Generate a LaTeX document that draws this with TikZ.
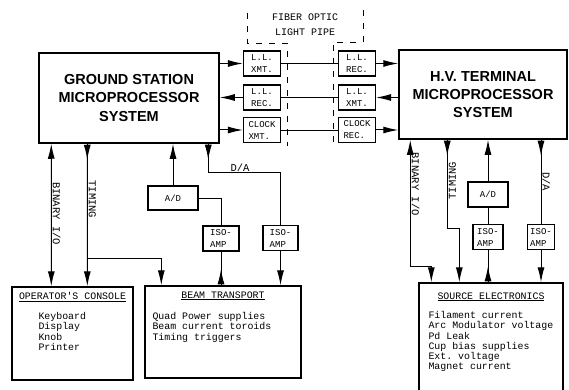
\documentclass[tikz,border=0pt]{standalone}
\usepackage{fontspec}
\setmainfont{Liberation Serif}
\setsansfont{Liberation Sans}
\setmonofont{Liberation Mono}
\usetikzlibrary{arrows.meta,positioning,decorations.markings}

\begin{document}
\begin{tikzpicture}[
  x=1pt, y=-1pt,
  >={Latex[length=15pt,width=7pt]},
  every node/.style={inner sep=1pt},
  link/.style={line width=1pt},
  headout/.style={link, postaction={decorate},
    decoration={markings, mark=at position 16pt with {\arrow{>}}}},
  fiber/.style={line width=0.6pt},
  pipe/.style={line width=0.8pt, dash pattern=on 6pt off 7pt},
  sysbox/.style={draw, line width=1.5pt, align=center,
    font=\fontsize{14.5}{18.3}\selectfont\sffamily\bfseries},
  unit/.style={draw, line width=1.3pt, minimum width=#1, minimum height=25pt,
    align=left, inner sep=2pt, font=\fontsize{9}{12}\selectfont\ttfamily},
  unit/.default=37pt,
  panel/.style={draw, line width=1.4pt},
  heading/.style={font=\fontsize{9.9}{10.2}\selectfont\ttfamily},
  items/.style={align=left, font=\fontsize{9.9}{10.2}\selectfont\ttfamily},
  tag/.style={font=\fontsize{10.5}{12}\selectfont\ttfamily}
]
\useasboundingbox (0,0) rectangle (569,390);

\node[sysbox, minimum width=180pt, minimum height=90pt] (gs) at (129,98)
  {GROUND STATION\\MICROPROCESSOR\\SYSTEM};
\node[sysbox, minimum width=168pt, minimum height=89pt] (hv) at (483,94.5)
  {H.V. TERMINAL\\MICROPROCESSOR\\SYSTEM};

\node[unit] (llx) at (262,63.5) {L.L.\\XMT.};
\node[unit] (llr) at (262,97.5) {L.L.\\REC.};
\node[unit] (clkx) at (262,130) {CLOCK\\XMT.};
\node[unit] (llrr) at (357,63.5) {L.L.\\REC.};
\node[unit] (llxr) at (357,97.5) {L.L.\\XMT.};
\node[unit] (clkr) at (357,130) {CLOCK\\REC.};

\node[tag, align=center, font=\fontsize{10}{15}\selectfont\ttfamily] (pipelbl) at (305,25)
  {FIBER OPTIC\\LIGHT PIPE};
\draw[pipe] (247,13) -- (247,43) -- (287,43) -- (287,146);
\draw[pipe] (363,10) -- (363,42) -- (333,42) -- (333,146);

\node[unit=50pt, minimum height=24pt] (adg) at (173,198) {A/D};
\node[unit=36pt] (isob) at (221,238.5) {ISO-\\AMP};
\node[unit=35pt] (isod) at (280.5,238) {ISO-\\AMP};
\node[unit=40pt] (adh) at (488,194.5) {A/D};
\node[unit=30pt] (isoa) at (488,237) {ISO-\\AMP};
\node[unit=27pt] (isoh) at (541,237) {ISO-\\AMP};

\node[panel, minimum width=121pt, minimum height=93pt] (con) at (72.5,333.5) {};
\node[heading, below=5pt of con.north] (conhd) {\underline{OPERATOR'S CONSOLE}};
\node[items, anchor=north west] (conlist) at ([xshift=26pt,yshift=-25pt]con.north west)
  {Keyboard\\Display\\Knob\\Printer};

\node[panel, minimum width=156pt, minimum height=92pt] (beam) at (223,332) {};
\node[heading, below=5pt of beam.north] (beamhd) {\underline{BEAM TRANSPORT}};
\node[items, anchor=north west] (beamlist) at ([xshift=7pt,yshift=-26pt]beam.north west)
  {Quad Power supplies\\Beam current toroids\\Timing triggers};

\node[panel, minimum width=144pt, minimum height=112pt] (src) at (491,339) {};
\node[heading, below=9pt of src.north] (srchd) {\underline{SOURCE ELECTRONICS}};
\node[items, anchor=north west] (srclist) at ([xshift=9pt,yshift=-28pt]src.north west)
  {Filament current\\Arc Modulator voltage\\Pd Leak\\Cup bias supplies\\Ext. voltage\\Magnet current};

\draw[link,->] (gs.east |- llx) -- (llx);
\draw[link,<-] (gs.east |- llr) -- (llr);
\draw[link,->] (gs.east |- clkx) -- (clkx);
\draw[fiber] (llx) -- (llrr);
\draw[fiber] (llr) -- (llxr);
\draw[fiber] (clkx) -- (clkr);
\draw[link,->] (llrr) -- (llrr -| hv.west);
\draw[link,<-] (llxr) -- (llxr -| hv.west);
\draw[link,->] (clkr) -- (clkr -| hv.west);

\draw[link,<->] ([xshift=13pt]gs.south west) -- node[tag, pos=.49, anchor=south, rotate=-90] (binl) {BINARY I/O} ([xshift=40pt]con.north west);
\draw[headout,->] ([xshift=49pt]gs.south west) -- node[tag, pos=.39, anchor=south, rotate=-90] (timl) {TIMING} ([xshift=76pt]con.north west);
\draw[link,->] ([xshift=49pt,yshift=-115pt]gs.south west) -| ([xshift=17pt]beam.north west);
\draw[link,<-] (adg |- gs.south) -- (adg.north);
\draw[headout] ([xshift=170pt]gs.south west) -- ++(0,29) -| node[tag, pos=.22, above] (dal) {D/A} (isod.north);
\draw[link] (adg.east) -| (isob.north);
\draw[headout] (isob |- beam.north) -- (isob.south);
\draw[link,->] (isod.south) -- (isod |- beam.north);

\draw[link,<->] ([xshift=12pt]hv.south west) -- node[tag, pos=.35, anchor=south, rotate=-90] (binr) {BINARY I/O} ++(0,127) -| ([xshift=13pt]src.north west);
\draw[headout,->] ([xshift=49pt]hv.south west) -- node[tag, pos=.46, anchor=north, rotate=90] (timr) {TIMING} ++(0,89) -| ([xshift=41pt]src.north west);
\draw[link,<-] (adh |- hv.south) -- (adh.north);
\draw[link] (adh) -- (isoa);
\draw[headout] (isoa |- src.north) -- (isoa.south);
\draw[headout] (isoh |- hv.south) -- node[tag, midway, anchor=south, rotate=-90] (dar) {D/A} (isoh.north);
\draw[link,->] (isoh.south) -- (isoh |- src.north);
\end{tikzpicture}
\end{document}
